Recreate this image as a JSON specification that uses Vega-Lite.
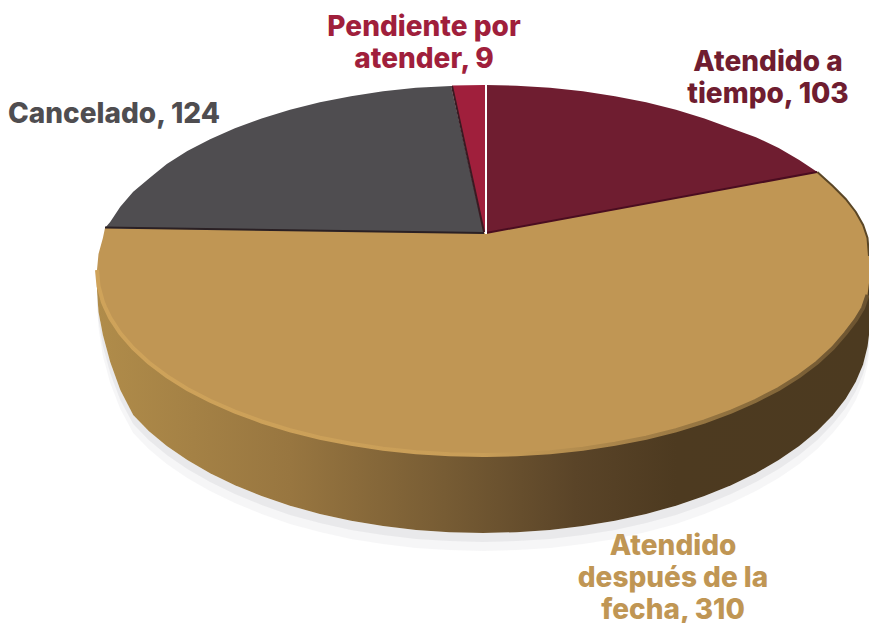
{
"$schema":"https://vega.github.io/schema/vega-lite/v6.json",
"width":869,"height":623,
"autosize":"none",
"padding":0,
"background":"white",
"view":{"stroke":null},
"datasets":{
"wall":[
{"x":97,"b":270,"bottom":290,"s1":298,"s2":304},
{"x":98.5,"b":270,"bottom":312,"s1":320,"s2":328},
{"x":102.9,"b":270,"bottom":335,"s1":346,"s2":356},
{"x":110.2,"b":270,"bottom":362,"s1":373,"s2":383},
{"x":120.3,"b":270,"bottom":390,"s1":400,"s2":409},
{"x":133.2,"b":270,"bottom":415,"s1":424,"s2":433},
{"x":148.7,"b":270,"bottom":431,"s1":440,"s2":449},
{"x":166.8,"b":270,"bottom":446,"s1":455,"s2":464},
{"x":187.3,"b":270,"bottom":460.1,"s1":469,"s2":478},
{"x":210.1,"b":270,"bottom":473.2,"s1":482,"s2":491},
{"x":234.9,"b":270,"bottom":485.3,"s1":494,"s2":503},
{"x":261.6,"b":270,"bottom":496.1,"s1":505,"s2":514},
{"x":290,"b":270,"bottom":505.7,"s1":515,"s2":524},
{"x":319.9,"b":270,"bottom":513.9,"s1":523,"s2":532},
{"x":351,"b":270,"bottom":520.7,"s1":530,"s2":539},
{"x":383.1,"b":270,"bottom":526,"s1":535,"s2":544},
{"x":416,"b":270,"bottom":529.9,"s1":539,"s2":548},
{"x":449.4,"b":270,"bottom":532.2,"s1":541,"s2":550},
{"x":483,"b":270,"bottom":533,"s1":542,"s2":551},
{"x":516.6,"b":270,"bottom":532.2,"s1":541,"s2":550},
{"x":550,"b":270,"bottom":529.9,"s1":539,"s2":548},
{"x":582.9,"b":270,"bottom":526,"s1":535,"s2":544},
{"x":615,"b":270,"bottom":520.7,"s1":530,"s2":539},
{"x":646.1,"b":270,"bottom":513.9,"s1":523,"s2":532},
{"x":676,"b":270,"bottom":505.7,"s1":515,"s2":524},
{"x":704.4,"b":270,"bottom":496.1,"s1":505,"s2":514},
{"x":731.1,"b":270,"bottom":485.3,"s1":494,"s2":503},
{"x":755.9,"b":270,"bottom":473.2,"s1":482,"s2":491},
{"x":778.7,"b":270,"bottom":460.1,"s1":469,"s2":478},
{"x":799.2,"b":270,"bottom":446,"s1":455,"s2":464},
{"x":817.3,"b":270,"bottom":431,"s1":440,"s2":449},
{"x":832.8,"b":270,"bottom":415.2,"s1":424,"s2":433},
{"x":845.7,"b":270,"bottom":398.8,"s1":408,"s2":417},
{"x":855.8,"b":270,"bottom":381.8,"s1":391,"s2":400},
{"x":863.1,"b":270,"bottom":364.4,"s1":374,"s2":383},
{"x":867.5,"b":270,"bottom":346.8,"s1":356,"s2":365},
{"x":869,"b":270,"bottom":335,"s1":345,"s2":354}
],
"slices":[
{"cat":"Atendido después de la fecha","valor":310,"x":97,"y":270,"y2":270},
{"cat":"Atendido después de la fecha","valor":310,"x":98.5,"y":254,"y2":286.1},
{"cat":"Atendido después de la fecha","valor":310,"x":102.9,"y":238,"y2":302.1},
{"cat":"Atendido después de la fecha","valor":310,"x":105,"y":228,"y2":307},
{"cat":"Atendido después de la fecha","valor":310,"x":110.2,"y":228.1,"y2":317.9},
{"cat":"Atendido después de la fecha","valor":310,"x":120.3,"y":228.2,"y2":333.3},
{"cat":"Atendido después de la fecha","valor":310,"x":133.2,"y":228.4,"y2":348.2},
{"cat":"Atendido después de la fecha","valor":310,"x":148.7,"y":228.6,"y2":362.5},
{"cat":"Atendido después de la fecha","valor":310,"x":166.8,"y":228.8,"y2":376.1},
{"cat":"Atendido después de la fecha","valor":310,"x":187.3,"y":229.1,"y2":388.9},
{"cat":"Atendido después de la fecha","valor":310,"x":210.1,"y":229.4,"y2":400.8},
{"cat":"Atendido después de la fecha","valor":310,"x":234.9,"y":229.7,"y2":411.7},
{"cat":"Atendido después de la fecha","valor":310,"x":261.6,"y":230.1,"y2":421.5},
{"cat":"Atendido después de la fecha","valor":310,"x":290,"y":230.5,"y2":430.2},
{"cat":"Atendido después de la fecha","valor":310,"x":319.9,"y":230.9,"y2":437.7},
{"cat":"Atendido después de la fecha","valor":310,"x":351,"y":231.3,"y2":443.8},
{"cat":"Atendido después de la fecha","valor":310,"x":383.1,"y":231.7,"y2":448.7},
{"cat":"Atendido después de la fecha","valor":310,"x":416,"y":232.1,"y2":452.2},
{"cat":"Atendido después de la fecha","valor":310,"x":449.4,"y":232.6,"y2":454.3},
{"cat":"Atendido después de la fecha","valor":310,"x":483,"y":233,"y2":455},
{"cat":"Atendido después de la fecha","valor":310,"x":486,"y":233,"y2":455},
{"cat":"Atendido después de la fecha","valor":310,"x":516.6,"y":227.4,"y2":454.3},
{"cat":"Atendido después de la fecha","valor":310,"x":550,"y":221.2,"y2":452.2},
{"cat":"Atendido después de la fecha","valor":310,"x":582.9,"y":215.1,"y2":448.7},
{"cat":"Atendido después de la fecha","valor":310,"x":615,"y":209.2,"y2":443.8},
{"cat":"Atendido después de la fecha","valor":310,"x":646.1,"y":203.5,"y2":437.7},
{"cat":"Atendido después de la fecha","valor":310,"x":676,"y":198,"y2":430.2},
{"cat":"Atendido después de la fecha","valor":310,"x":704.4,"y":192.7,"y2":421.5},
{"cat":"Atendido después de la fecha","valor":310,"x":731.1,"y":187.8,"y2":411.7},
{"cat":"Atendido después de la fecha","valor":310,"x":755.9,"y":183.3,"y2":400.8},
{"cat":"Atendido después de la fecha","valor":310,"x":778.7,"y":179,"y2":388.9},
{"cat":"Atendido después de la fecha","valor":310,"x":799.2,"y":175.3,"y2":376.1},
{"cat":"Atendido después de la fecha","valor":310,"x":817.3,"y":172,"y2":362.5},
{"cat":"Atendido después de la fecha","valor":310,"x":832.8,"y":186,"y2":348.2},
{"cat":"Atendido después de la fecha","valor":310,"x":845.7,"y":199,"y2":333.3},
{"cat":"Atendido después de la fecha","valor":310,"x":855.8,"y":212,"y2":320},
{"cat":"Atendido después de la fecha","valor":310,"x":863.1,"y":225,"y2":308},
{"cat":"Atendido después de la fecha","valor":310,"x":867.5,"y":238,"y2":295},
{"cat":"Atendido después de la fecha","valor":310,"x":869,"y":256,"y2":283},
{"cat":"Atendido a tiempo","valor":103,"x":486,"y":85,"y2":233},
{"cat":"Atendido a tiempo","valor":103,"x":516.6,"y":85.7,"y2":227.4},
{"cat":"Atendido a tiempo","valor":103,"x":550,"y":87.8,"y2":221.2},
{"cat":"Atendido a tiempo","valor":103,"x":582.9,"y":91.3,"y2":215.1},
{"cat":"Atendido a tiempo","valor":103,"x":615,"y":96.2,"y2":209.2},
{"cat":"Atendido a tiempo","valor":103,"x":646.1,"y":102.3,"y2":203.5},
{"cat":"Atendido a tiempo","valor":103,"x":676,"y":109.8,"y2":198},
{"cat":"Atendido a tiempo","valor":103,"x":704.4,"y":118.5,"y2":192.7},
{"cat":"Atendido a tiempo","valor":103,"x":731.1,"y":128.3,"y2":187.8},
{"cat":"Atendido a tiempo","valor":103,"x":755.9,"y":137.2,"y2":183.3},
{"cat":"Atendido a tiempo","valor":103,"x":778.7,"y":148,"y2":179},
{"cat":"Atendido a tiempo","valor":103,"x":799.2,"y":160,"y2":175.3},
{"cat":"Atendido a tiempo","valor":103,"x":817.3,"y":172,"y2":172},
{"cat":"Cancelado","valor":124,"x":105,"y":228,"y2":228},
{"cat":"Cancelado","valor":124,"x":110.2,"y":222.1,"y2":228.1},
{"cat":"Cancelado","valor":124,"x":120.3,"y":206.7,"y2":228.2},
{"cat":"Cancelado","valor":124,"x":133.2,"y":191.8,"y2":228.4},
{"cat":"Cancelado","valor":124,"x":150.2,"y":177.5,"y2":228.6},
{"cat":"Cancelado","valor":124,"x":166.8,"y":163.9,"y2":228.8},
{"cat":"Cancelado","valor":124,"x":187.3,"y":151.1,"y2":229.1},
{"cat":"Cancelado","valor":124,"x":210.1,"y":139.2,"y2":229.4},
{"cat":"Cancelado","valor":124,"x":234.9,"y":128.3,"y2":229.7},
{"cat":"Cancelado","valor":124,"x":261.6,"y":118.5,"y2":230.1},
{"cat":"Cancelado","valor":124,"x":290,"y":109.8,"y2":230.5},
{"cat":"Cancelado","valor":124,"x":319.9,"y":102.3,"y2":230.9},
{"cat":"Cancelado","valor":124,"x":351,"y":96.2,"y2":231.3},
{"cat":"Cancelado","valor":124,"x":383.1,"y":91.3,"y2":231.7},
{"cat":"Cancelado","valor":124,"x":416,"y":87.8,"y2":232.1},
{"cat":"Cancelado","valor":124,"x":451,"y":85.9,"y2":232.6},
{"cat":"Cancelado","valor":124,"x":484,"y":232.8,"y2":233},
{"cat":"Pendiente por atender","valor":9,"x":452,"y":85.5,"y2":85.5},
{"cat":"Pendiente por atender","valor":9,"x":484,"y":85,"y2":232},
{"cat":"Pendiente por atender","valor":9,"x":486,"y":85,"y2":233}
],
"edges":[
{"e":"cancel-gold","x":105,"y":227.5},{"e":"cancel-gold","x":484,"y":233},
{"e":"maroon-gold","x":486,"y":233},{"e":"maroon-gold","x":817,"y":172},
{"e":"cancel-pend","x":452,"y":86},{"e":"cancel-pend","x":484,"y":232},
{"e":"white","x":486,"y":84},{"e":"white","x":486.01,"y":234},
{"e":"rimdark","x":817.3,"y":172},{"e":"rimdark","x":832.8,"y":186},{"e":"rimdark","x":845.7,"y":199},{"e":"rimdark","x":855.8,"y":212},{"e":"rimdark","x":863.1,"y":225},{"e":"rimdark","x":867.5,"y":238},{"e":"rimdark","x":869,"y":256}
],
"labels":[
{"label":"Pendiente por\natender, 9","cat":"Pendiente por atender","valor":9,"x":424,"y":36},
{"label":"Atendido a\ntiempo, 103","cat":"Atendido a tiempo","valor":103,"x":768,"y":71},
{"label":"Cancelado, 124","cat":"Cancelado","valor":124,"x":114,"y":123},
{"label":"Atendido\ndespués de la\nfecha, 310","cat":"Atendido después de la fecha","valor":310,"x":673,"y":555}
]
},
"resolve":{"scale":{"color":"independent"}},
"encoding":{
"x":{"field":"x","type":"quantitative","scale":{"domain":[0,869],"nice":false,"zero":false},"axis":null},
"y":{"field":"y","type":"quantitative","scale":{"domain":[623,0],"nice":false,"zero":false},"axis":null}
},
"layer":[
{"data":{"name":"wall"},"mark":{"type":"area","color":"#a9a9ad","opacity":0.1},
 "encoding":{"y":{"field":"bottom","type":"quantitative","stack":null,"scale":{"domain":[623,0],"nice":false,"zero":false},"axis":null},"y2":{"field":"s2"}}},
{"data":{"name":"wall"},"mark":{"type":"area","color":"#a9a9ad","opacity":0.16},
 "encoding":{"y":{"field":"bottom","type":"quantitative","stack":null,"scale":{"domain":[623,0],"nice":false,"zero":false},"axis":null},"y2":{"field":"s1"}}},
{"data":{"name":"wall"},"mark":{"type":"area","fill":{"gradient":"linear","x1":0,"y1":0,"x2":1,"y2":0,"stops":[{"offset":0,"color":"#b08c4a"},{"offset":0.25,"color":"#987640"},{"offset":0.45,"color":"#775c34"},{"offset":0.62,"color":"#5a4428"},{"offset":0.75,"color":"#4d3a20"},{"offset":1,"color":"#4c3a20"}]}},
 "encoding":{"y":{"field":"b","type":"quantitative","stack":null,"scale":{"domain":[623,0],"nice":false,"zero":false},"axis":null},"y2":{"field":"bottom"}}},
{"data":{"name":"slices"},"mark":{"type":"area"},
 "encoding":{"y":{"field":"y","type":"quantitative","stack":null,"scale":{"domain":[623,0],"nice":false,"zero":false},"axis":null},"y2":{"field":"y2"},
 "color":{"field":"cat","type":"nominal","legend":null,"scale":{"domain":["Atendido a tiempo","Atendido después de la fecha","Cancelado","Pendiente por atender"],"range":["#6f1d30","#c09654","#4f4d50","#a01f3c"]}}}},
{"data":{"name":"slices"},"transform":[{"filter":"datum.cat==='Atendido después de la fecha'&&datum.x<869"}],
 "mark":{"type":"line","strokeWidth":4,"stroke":{"gradient":"linear","x1":0,"y1":0,"x2":1,"y2":0,"stops":[{"offset":0,"color":"#cfa35a"},{"offset":0.5,"color":"#c99e58"},{"offset":0.68,"color":"#a9844a"},{"offset":0.85,"color":"#8a6c3c"},{"offset":1,"color":"#6a5230"}]}},
 "encoding":{"y":{"field":"y2","type":"quantitative","scale":{"domain":[623,0],"nice":false,"zero":false},"axis":null}}},
{"data":{"name":"edges"},"mark":{"type":"line","strokeWidth":2},
 "encoding":{"color":{"field":"e","type":"nominal","legend":null,"scale":{"domain":["cancel-gold","maroon-gold","cancel-pend","white","rimdark"],"range":["#2a2024","#4a0d20","#3a1a22","#ffffff","#5a4626"]}}}},
{"data":{"name":"labels"},"mark":{"type":"text","font":"Inter","fontWeight":800,"fontSize":28,"lineBreak":"\n","lineHeight":32,"align":"center","baseline":"alphabetic"},
 "encoding":{"text":{"field":"label"},
 "color":{"field":"cat","type":"nominal","legend":null,"scale":{"domain":["Atendido a tiempo","Atendido después de la fecha","Cancelado","Pendiente por atender"],"range":["#6f1d30","#c09654","#4f4d50","#a01f3c"]}}}}
]
}
